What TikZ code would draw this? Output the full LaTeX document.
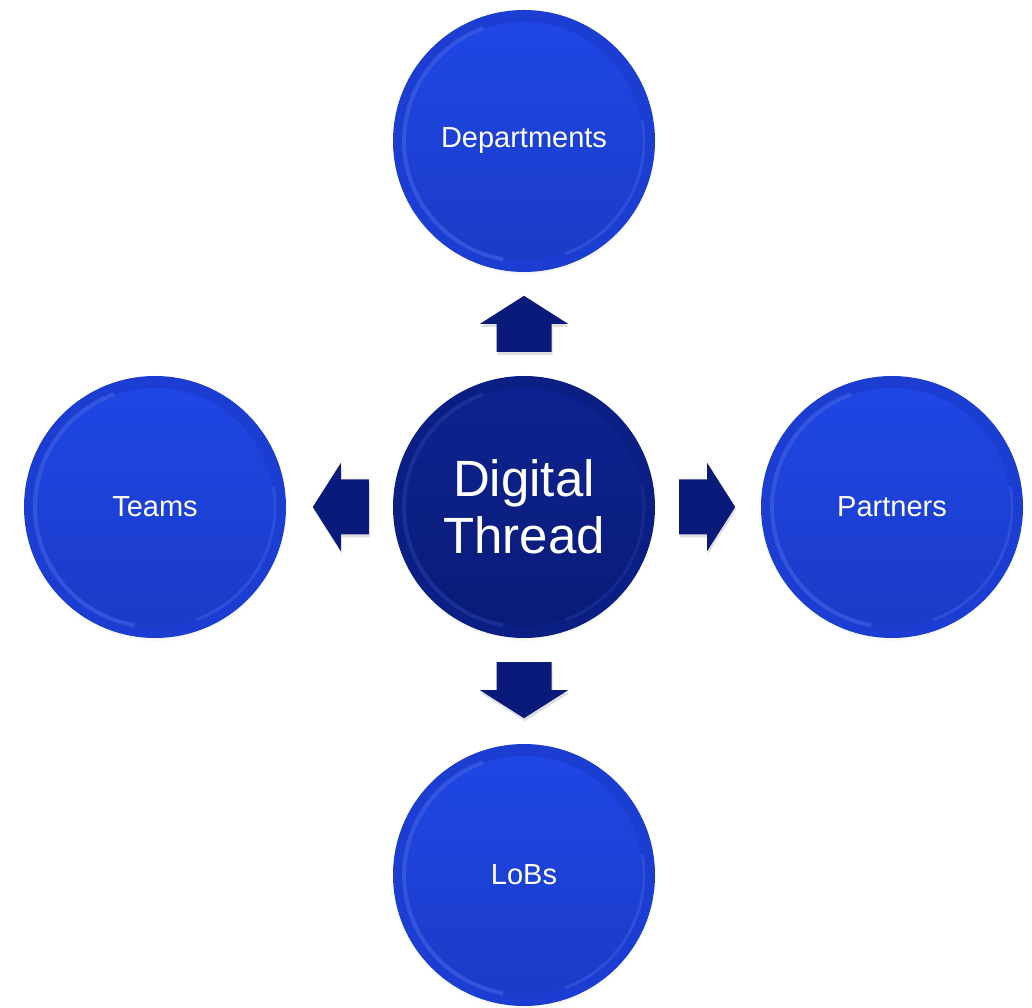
\documentclass[tikz,border=0pt]{standalone}
\usepackage{fontspec}
\setmainfont{Liberation Sans}
\usetikzlibrary{shadows,calc}
\definecolor{oRim}{HTML}{1B3DD2}
\definecolor{oTop}{HTML}{1F47E6}
\definecolor{oBot}{HTML}{1A3BC6}
\definecolor{oHi}{HTML}{6A8CF5}
\definecolor{cRim}{HTML}{0B1E84}
\definecolor{cTop}{HTML}{0D2392}
\definecolor{cBot}{HTML}{0A1B76}
\definecolor{cHi}{HTML}{3D58C0}
\definecolor{arrowcol}{HTML}{0A1A7A}
\tikzset{
  bubble/.style={circle, minimum size=262pt, inner sep=0pt, text=white, align=center,
    fill=oRim,
    circular drop shadow={shadow xshift=0pt, shadow yshift=-4pt, opacity=.3, shadow scale=1.0},
    path picture={
      \fill[top color=oTop, bottom color=oBot] (path picture bounding box.center) circle (119pt);
      \draw[oHi, line width=4pt, opacity=.3] ($(path picture bounding box.center)+(110:120pt)$) arc (110:260:120pt);
      \draw[oHi, line width=3pt, opacity=.22] ($(path picture bounding box.center)+(-70:120pt)$) arc (-70:10:120pt);
    },
    font=\fontsize{29}{35}\selectfont},
  hub/.style={circle, minimum size=262pt, inner sep=0pt, text=white, align=center,
    fill=cRim,
    circular drop shadow={shadow xshift=0pt, shadow yshift=-4pt, opacity=.3, shadow scale=1.0},
    path picture={
      \fill[top color=cTop, bottom color=cBot] (path picture bounding box.center) circle (119pt);
      \draw[cHi, line width=4pt, opacity=.3] ($(path picture bounding box.center)+(110:120pt)$) arc (110:260:120pt);
      \draw[cHi, line width=3pt, opacity=.22] ($(path picture bounding box.center)+(-70:120pt)$) arc (-70:10:120pt);
    },
    font=\fontsize{51}{57}\selectfont},
  blockarrow/.style={fill=arrowcol, drop shadow={shadow xshift=1pt, shadow yshift=-3pt, opacity=.25}}
}
\begin{document}
\begin{tikzpicture}[x=1pt,y=1pt]
\useasboundingbox (0,0) rectangle (1032,1007);
\node[hub] (c) at (524,500) {Digital\\Thread};
\node[bubble] (dep) at (524,866) {Departments};
\node[bubble] (teams) at (155,500) {Teams};
\node[bubble] (part) at (892,500) {Partners};
\node[bubble] (lobs) at (524,132) {LoBs};
\coordinate (aup) at ($(c.north)+(0,24)$);
\coordinate (adown) at ($(c.south)+(0,-24)$);
\coordinate (aleft) at ($(c.west)+(-24,0)$);
\coordinate (aright) at ($(c.east)+(24,0)$);
\foreach \p/\r in {aup/0, aleft/90, adown/180, aright/-90}{
  \fill[blockarrow, shift={(\p)}, rotate=\r]
    (-27.5,0) -- (-27.5,28) -- (-44,28) -- (0,56) -- (44,28) -- (27.5,28) -- (27.5,0) -- cycle;
}
\end{tikzpicture}
\end{document}
